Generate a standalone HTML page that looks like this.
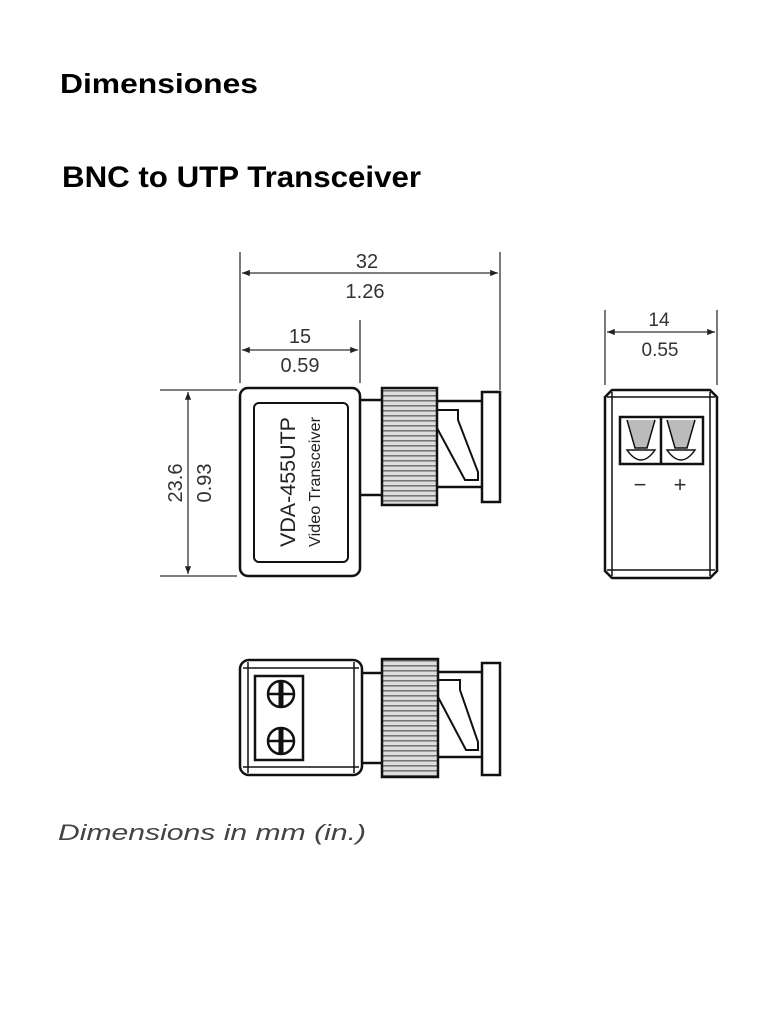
<!DOCTYPE html>
<html><head><meta charset="utf-8"><style>html,body{margin:0;padding:0;background:#fff}svg{display:block}</style></head>
<body>
<svg width="768" height="1024" viewBox="0 0 768 1024" xmlns="http://www.w3.org/2000/svg" font-family="Liberation Sans, sans-serif">
<defs>
<marker id="a" viewBox="0 0 10 10" refX="10" refY="5" markerWidth="8" markerHeight="6" orient="auto-start-reverse"><path d="M0,1 L10,5 L0,9 z" fill="#222"/></marker>
<pattern id="knurl" width="4" height="5" patternUnits="userSpaceOnUse"><rect width="4" height="5" fill="#ddd"/><rect y="0" width="4" height="1.6" fill="#777"/></pattern>
</defs>
<text x="60" y="93" font-size="28" font-weight="bold" textLength="198" lengthAdjust="spacingAndGlyphs" fill="#000">Dimensiones</text>
<text x="62" y="187" font-size="30" font-weight="bold" textLength="359" lengthAdjust="spacingAndGlyphs" fill="#000">BNC to UTP Transceiver</text>

<g stroke="#333" fill="none" stroke-width="1.3">
<!-- dimension 32 -->
<line x1="240" y1="252" x2="240" y2="383"/>
<line x1="500" y1="252" x2="500" y2="390"/>
<line x1="242" y1="273" x2="498" y2="273" marker-start="url(#a)" marker-end="url(#a)"/>
<line x1="360" y1="320" x2="360" y2="383"/>
<line x1="242" y1="350" x2="358" y2="350" marker-start="url(#a)" marker-end="url(#a)"/>
<!-- height -->
<line x1="160" y1="390" x2="237" y2="390"/>
<line x1="160" y1="576" x2="237" y2="576"/>
<line x1="188" y1="392" x2="188" y2="574" marker-start="url(#a)" marker-end="url(#a)"/>
<!-- 14 -->
<line x1="605" y1="310" x2="605" y2="385"/>
<line x1="717" y1="310" x2="717" y2="385"/>
<line x1="607" y1="332" x2="715" y2="332" marker-start="url(#a)" marker-end="url(#a)"/>
</g>
<g fill="#333" font-size="20" text-anchor="middle">
<text x="367" y="268">32</text><text x="365" y="298">1.26</text>
<text x="300" y="343">15</text><text x="300" y="372">0.59</text>
<text x="659" y="326" font-size="19">14</text><text x="660" y="356" font-size="19">0.55</text>
<text transform="translate(182,483) rotate(-90)">23.6</text>
<text transform="translate(211,483) rotate(-90)">0.93</text>
</g>

<!-- top view -->
<g stroke="#111" stroke-width="2.5" fill="#fff">
<rect x="240" y="388" width="120" height="188" rx="8"/>
<rect x="254" y="403" width="94" height="159" rx="5" stroke-width="2"/>
<line x1="360" y1="400" x2="382" y2="400"/>
<line x1="360" y1="495" x2="382" y2="495"/>
<rect x="382" y="388" width="55" height="117" fill="url(#knurl)"/>
<line x1="437" y1="401" x2="483" y2="401"/>
<line x1="437" y1="487" x2="483" y2="487"/>
<path d="M437,410 L458,410 L458,420 L478,472 L478,480 L465,480 L437,428" fill="none" stroke-width="2"/>
<rect x="482" y="392" width="18" height="110"/>
</g>
<g fill="#222" text-anchor="middle">
<text transform="translate(295,482) rotate(-90)" font-size="21" textLength="130" lengthAdjust="spacingAndGlyphs">VDA-455UTP</text>
<text transform="translate(320,482) rotate(-90)" font-size="16" textLength="130" lengthAdjust="spacingAndGlyphs">Video Transceiver</text>
</g>

<!-- side view -->
<g stroke="#111" stroke-width="2.5" fill="#fff">
<path d="M612,390 L710,390 L717,397 L717,571 L710,578 L612,578 L605,571 L605,397 Z"/>
<line x1="612" y1="392" x2="612" y2="576" stroke-width="1.5"/>
<line x1="710" y1="392" x2="710" y2="576" stroke-width="1.5"/>
<line x1="607" y1="397" x2="715" y2="397" stroke-width="1.5"/>
<line x1="607" y1="570" x2="715" y2="570" stroke-width="1.5"/>
<rect x="620" y="417" width="83" height="47" fill="#fff"/>
<line x1="661" y1="417" x2="661" y2="464"/>
<path d="M627,420 L635,448 L647,448 L655,420" fill="#bbb" stroke-width="1.5"/>
<path d="M667,420 L675,448 L687,448 L695,420" fill="#bbb" stroke-width="1.5"/>
<path d="M627,450 Q641,470 655,450 Z" fill="#fff" stroke-width="1.5"/>
<path d="M667,450 Q681,470 695,450 Z" fill="#fff" stroke-width="1.5"/>
</g>
<g fill="#333" font-size="22" text-anchor="middle"><text x="640" y="492">−</text><text x="680" y="492">+</text></g>

<!-- bottom view -->
<g stroke="#111" stroke-width="2.5" fill="#fff">
<rect x="240" y="660" width="122" height="115" rx="9"/>
<line x1="248" y1="662" x2="248" y2="773" stroke-width="1.5"/>
<line x1="354" y1="662" x2="354" y2="773" stroke-width="1.5"/>
<line x1="243" y1="668" x2="359" y2="668" stroke-width="1.5"/>
<line x1="243" y1="767" x2="359" y2="767" stroke-width="1.5"/>
<rect x="255" y="676" width="48" height="84"/>
<circle cx="281" cy="694" r="13"/><circle cx="281" cy="741" r="13"/>
<line x1="268" y1="694" x2="294" y2="694"/><line x1="281" y1="681" x2="281" y2="707" stroke-width="5"/>
<line x1="268" y1="741" x2="294" y2="741"/><line x1="281" y1="728" x2="281" y2="754" stroke-width="5"/>
<line x1="362" y1="673" x2="382" y2="673"/>
<line x1="362" y1="763" x2="382" y2="763"/>
<rect x="382" y="659" width="56" height="118" fill="url(#knurl)"/>
<line x1="438" y1="672" x2="483" y2="672"/>
<line x1="438" y1="757" x2="483" y2="757"/>
<path d="M438,680 L460,680 L460,690 L478,742 L478,750 L466,750 L438,697" fill="none" stroke-width="2"/>
<rect x="482" y="663" width="18" height="112"/>
</g>

<text x="58" y="840" font-size="22" font-style="italic" fill="#444" textLength="308" lengthAdjust="spacingAndGlyphs">Dimensions in mm (in.)</text>
</svg>
</body></html>
